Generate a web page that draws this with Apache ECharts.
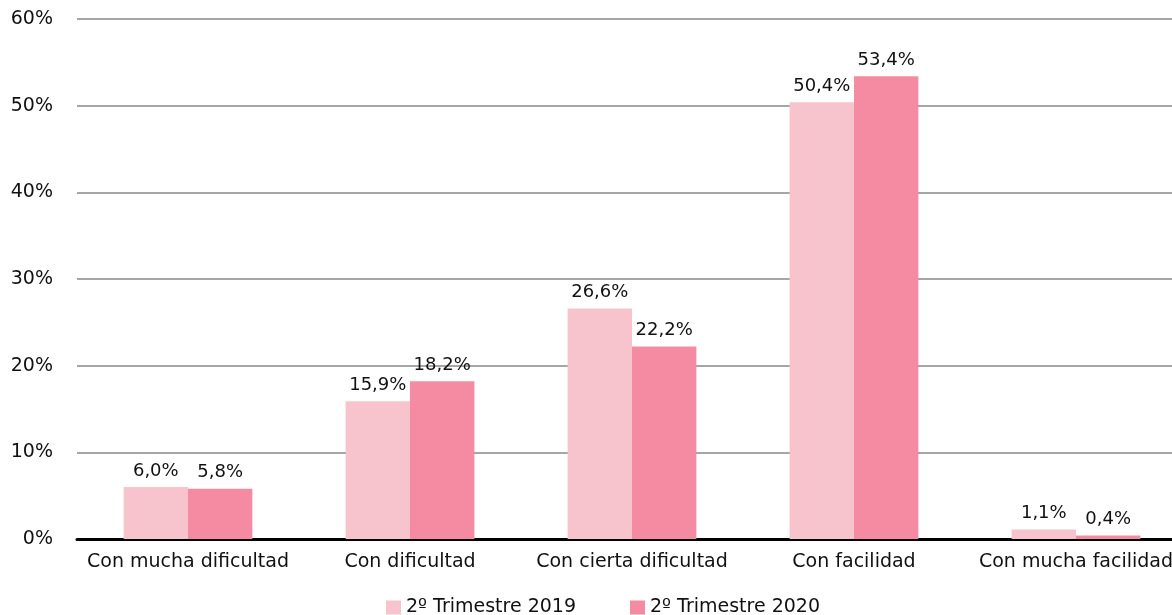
<!DOCTYPE html>
<html>
<head>
<meta charset="utf-8">
<script src="https://cdn.jsdelivr.net/npm/echarts@6/dist/echarts.min.js"></script>
<style>
  html, body { margin: 0; padding: 0; background: #fff; overflow: hidden; }
  #chart { width: 1187px; height: 615px; }
</style>
</head>
<body>
<div id="chart"></div>
<script>
var categories = ['Con mucha dificultad', 'Con dificultad', 'Con cierta dificultad', 'Con facilidad', 'Con mucha facilidad'];
var serie2019 = [6.0, 15.9, 26.6, 50.4, 1.1];
var serie2020 = [5.8, 18.2, 22.2, 53.4, 0.4];
var seriesNames = ['2º Trimestre 2019', '2º Trimestre 2020'];

var font = '"DejaVu Sans", Verdana, sans-serif';
// the plot runs past the right edge of the window, like the original
var chart = echarts.init(document.getElementById('chart'));

function fmt(p) {
    return p.value.toFixed(1).replace('.', ',') + '%';
}

var option = {
    animation: false,
    textStyle: { fontFamily: font },
    grid: { left: 77, top: 19, right: 0, bottom: 76 },
    legend: {
        top: 593,
        left: 381,
        itemWidth: 15,
        itemHeight: 14,
        itemGap: 54,
        icon: 'rect',
        textStyle: { fontSize: 19, color: '#111', fontFamily: font }
    },
    xAxis: {
        type: 'category',
        data: categories,
        axisLine: { lineStyle: { color: '#000', width: 3 } },
        axisTick: { show: false },
        axisLabel: { fontSize: 19, color: '#111', margin: 14, interval: 0 }
    },
    yAxis: {
        type: 'value',
        min: 0,
        max: 60,
        interval: 10,
        axisLabel: { formatter: '{value}%', fontSize: 19, color: '#111', margin: 24 },
        splitLine: { lineStyle: { color: '#a6a6a6', width: 2 } },
        axisLine: { show: false },
        axisTick: { show: false }
    },
    series: [
        {
            name: seriesNames[0],
            type: 'bar',
            data: serie2019,
            barGap: '0%',
            barCategoryGap: '42%',
            itemStyle: { color: '#f7c3cc' },
            label: { show: true, position: 'top', formatter: fmt, fontSize: 18, color: '#111', distance: 7 }
        },
        {
            name: seriesNames[1],
            type: 'bar',
            data: serie2020,
            itemStyle: { color: '#f48ba2' },
            label: { show: true, position: 'top', formatter: fmt, fontSize: 18, color: '#111', distance: 7 }
        }
    ]
};
chart.setOption(option);
</script>
</body>
</html>
